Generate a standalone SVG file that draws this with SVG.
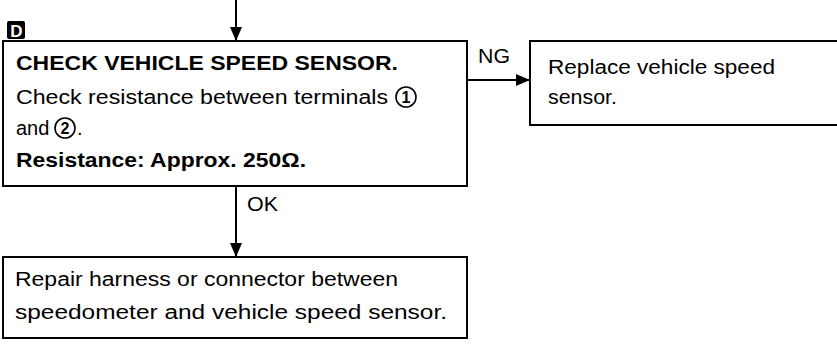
<svg xmlns="http://www.w3.org/2000/svg" width="837" height="345" viewBox="0 0 837 345">
<defs>
<style>
.box{fill:#fff;stroke:#000;stroke-width:2}
.t{font-family:"Liberation Sans",Arial,sans-serif;font-size:20px;fill:#000}
.b{font-weight:bold}
.ln{stroke:#000;stroke-width:2;fill:none}
.circ{fill:none;stroke:#000;stroke-width:1.6}
.num{font-family:"Liberation Sans",Arial,sans-serif;font-size:16px;font-weight:bold;fill:#000}
</style>
<marker id="ah" markerWidth="14" markerHeight="12" refX="14" refY="6" orient="auto" markerUnits="userSpaceOnUse">
<path d="M0,0 L14,6 L0,12 Z" fill="#000"/>
</marker>
</defs>
<rect width="837" height="345" fill="#fff"/>
<g id="badge">
<rect x="7" y="21" width="18" height="18" rx="2" fill="#000"/>
<text x="16.5" y="36.5" text-anchor="middle" style="font-family:'Liberation Sans',Arial,sans-serif;font-size:17px;font-weight:bold;fill:#fff">D</text>
</g>
<g id="connectors">
<line class="ln" x1="236" y1="0" x2="236" y2="41" marker-end="url(#ah)"/>
<line class="ln" x1="467" y1="80" x2="530" y2="80" marker-end="url(#ah)"/>
<line class="ln" x1="236" y1="186" x2="236" y2="257" marker-end="url(#ah)"/>
<text class="t" x="478" y="63" textLength="32" lengthAdjust="spacingAndGlyphs">NG</text>
<text class="t" x="247" y="211" textLength="31" lengthAdjust="spacingAndGlyphs">OK</text>
</g>
<g id="check">
<rect class="box" x="3" y="41" width="464" height="145"/>
<text class="t b" x="16" y="70" textLength="382" lengthAdjust="spacingAndGlyphs">CHECK VEHICLE SPEED SENSOR.</text>
<text class="t" x="16" y="104" textLength="372" lengthAdjust="spacingAndGlyphs">Check resistance between terminals</text>
<circle class="circ" cx="406" cy="97" r="10"/>
<text class="num" x="406" y="103" text-anchor="middle">1</text>
<text class="t" x="16" y="135">and</text>
<circle class="circ" cx="65" cy="128" r="10"/>
<text class="num" x="65" y="134" text-anchor="middle">2</text>
<text class="t" x="77" y="135">.</text>
<text class="t b" x="16" y="167" textLength="290" lengthAdjust="spacingAndGlyphs">Resistance: Approx. 250Ω.</text>
</g>
<g id="replace">
<rect class="box" x="530" y="41" width="320" height="84"/>
<text class="t" x="548" y="74" textLength="227" lengthAdjust="spacingAndGlyphs">Replace vehicle speed</text>
<text class="t" x="548" y="104" textLength="69" lengthAdjust="spacingAndGlyphs">sensor.</text>
</g>
<g id="repair">
<rect class="box" x="3" y="257" width="464" height="81"/>
<text class="t" x="15" y="286" textLength="383" lengthAdjust="spacingAndGlyphs">Repair harness or connector between</text>
<text class="t" x="15" y="319" textLength="432" lengthAdjust="spacingAndGlyphs">speedometer and vehicle speed sensor.</text>
</g>
</svg>
